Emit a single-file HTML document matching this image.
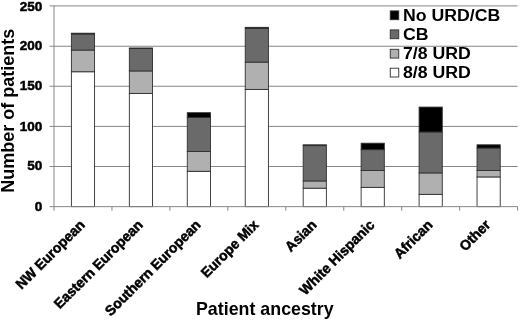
<!DOCTYPE html>
<html><head><meta charset="utf-8"><title>Chart</title>
<style>
html,body{margin:0;padding:0;background:#fff;}
body{width:520px;height:320px;overflow:hidden;position:relative;}
text{font-family:"Liberation Sans",Arial,sans-serif;font-weight:bold;fill:#000;}
.tk{font-size:13.4px;stroke:#000;stroke-width:0.5px;}
.cat{font-size:14.2px;stroke:#000;stroke-width:0.5px;}
.ttl{font-size:18.1px;}
.ttl2{font-size:18px;}
.lg{font-size:17.2px;}
</style></head><body>
<svg width="520" height="320" viewBox="0 0 520 320" style="display:block;position:absolute;left:0;top:0;filter:blur(0.3px)">
<rect width="520" height="320" fill="#fff"/>
<line x1="54.0" x2="517.60" y1="166.50" y2="166.50" stroke="#868686" stroke-width="1"/>
<line x1="54.0" x2="517.60" y1="126.40" y2="126.40" stroke="#868686" stroke-width="1"/>
<line x1="54.0" x2="517.60" y1="86.25" y2="86.25" stroke="#868686" stroke-width="1"/>
<line x1="54.0" x2="517.60" y1="46.25" y2="46.25" stroke="#868686" stroke-width="1"/>
<line x1="54.0" x2="517.60" y1="5.90" y2="5.90" stroke="#868686" stroke-width="1"/>
<rect x="71.39" y="71.75" width="23.18" height="134.90" fill="#ffffff" stroke="#303030" stroke-width="0.9"/>
<rect x="71.39" y="50.06" width="23.18" height="21.68" fill="#b0b0b0" stroke="#303030" stroke-width="0.9"/>
<rect x="71.39" y="34.00" width="23.18" height="16.06" fill="#6a6a6a" stroke="#303030" stroke-width="0.9"/>
<rect x="71.39" y="33.20" width="23.18" height="0.80" fill="#000000" stroke="#303030" stroke-width="0.9"/>
<rect x="129.34" y="93.43" width="23.18" height="113.22" fill="#ffffff" stroke="#303030" stroke-width="0.9"/>
<rect x="129.34" y="70.94" width="23.18" height="22.48" fill="#b0b0b0" stroke="#303030" stroke-width="0.9"/>
<rect x="129.34" y="48.46" width="23.18" height="22.48" fill="#6a6a6a" stroke="#303030" stroke-width="0.9"/>
<rect x="129.34" y="47.98" width="23.18" height="0.48" fill="#000000" stroke="#303030" stroke-width="0.9"/>
<rect x="187.28" y="171.32" width="23.18" height="35.33" fill="#ffffff" stroke="#303030" stroke-width="0.9"/>
<rect x="187.28" y="151.48" width="23.18" height="19.83" fill="#b0b0b0" stroke="#303030" stroke-width="0.9"/>
<rect x="187.28" y="117.52" width="23.18" height="33.97" fill="#6a6a6a" stroke="#303030" stroke-width="0.9"/>
<rect x="187.28" y="112.70" width="23.18" height="4.82" fill="#000000" stroke="#303030" stroke-width="0.9"/>
<rect x="245.24" y="89.41" width="23.18" height="117.24" fill="#ffffff" stroke="#303030" stroke-width="0.9"/>
<rect x="245.24" y="62.11" width="23.18" height="27.30" fill="#b0b0b0" stroke="#303030" stroke-width="0.9"/>
<rect x="245.24" y="28.38" width="23.18" height="33.73" fill="#6a6a6a" stroke="#303030" stroke-width="0.9"/>
<rect x="245.24" y="27.34" width="23.18" height="1.04" fill="#000000" stroke="#303030" stroke-width="0.9"/>
<rect x="303.19" y="188.18" width="23.18" height="18.47" fill="#ffffff" stroke="#303030" stroke-width="0.9"/>
<rect x="303.19" y="180.95" width="23.18" height="7.23" fill="#b0b0b0" stroke="#303030" stroke-width="0.9"/>
<rect x="303.19" y="145.62" width="23.18" height="35.33" fill="#6a6a6a" stroke="#303030" stroke-width="0.9"/>
<rect x="303.19" y="144.82" width="23.18" height="0.80" fill="#000000" stroke="#303030" stroke-width="0.9"/>
<rect x="361.13" y="187.38" width="23.18" height="19.27" fill="#ffffff" stroke="#303030" stroke-width="0.9"/>
<rect x="361.13" y="170.51" width="23.18" height="16.86" fill="#b0b0b0" stroke="#303030" stroke-width="0.9"/>
<rect x="361.13" y="149.64" width="23.18" height="20.88" fill="#6a6a6a" stroke="#303030" stroke-width="0.9"/>
<rect x="361.13" y="143.21" width="23.18" height="6.42" fill="#000000" stroke="#303030" stroke-width="0.9"/>
<rect x="419.09" y="194.36" width="23.18" height="12.29" fill="#ffffff" stroke="#303030" stroke-width="0.9"/>
<rect x="419.09" y="172.92" width="23.18" height="21.44" fill="#b0b0b0" stroke="#303030" stroke-width="0.9"/>
<rect x="419.09" y="131.97" width="23.18" height="40.95" fill="#6a6a6a" stroke="#303030" stroke-width="0.9"/>
<rect x="419.09" y="107.08" width="23.18" height="24.89" fill="#000000" stroke="#303030" stroke-width="0.9"/>
<rect x="477.04" y="176.94" width="23.18" height="29.71" fill="#ffffff" stroke="#303030" stroke-width="0.9"/>
<rect x="477.04" y="170.51" width="23.18" height="6.42" fill="#b0b0b0" stroke="#303030" stroke-width="0.9"/>
<rect x="477.04" y="148.03" width="23.18" height="22.48" fill="#6a6a6a" stroke="#303030" stroke-width="0.9"/>
<rect x="477.04" y="144.82" width="23.18" height="3.21" fill="#000000" stroke="#303030" stroke-width="0.9"/>
<line x1="54.0" x2="54.0" y1="5.90" y2="210.65" stroke="#868686" stroke-width="1"/>
<line x1="49.5" x2="517.60" y1="206.65" y2="206.65" stroke="#868686" stroke-width="1"/>
<line x1="49.5" x2="54.0" y1="166.50" y2="166.50" stroke="#868686" stroke-width="1"/>
<line x1="49.5" x2="54.0" y1="126.40" y2="126.40" stroke="#868686" stroke-width="1"/>
<line x1="49.5" x2="54.0" y1="86.25" y2="86.25" stroke="#868686" stroke-width="1"/>
<line x1="49.5" x2="54.0" y1="46.25" y2="46.25" stroke="#868686" stroke-width="1"/>
<line x1="49.5" x2="54.0" y1="5.90" y2="5.90" stroke="#868686" stroke-width="1"/>
<line x1="111.95" x2="111.95" y1="206.65" y2="210.65" stroke="#868686" stroke-width="1"/>
<line x1="169.90" x2="169.90" y1="206.65" y2="210.65" stroke="#868686" stroke-width="1"/>
<line x1="227.85" x2="227.85" y1="206.65" y2="210.65" stroke="#868686" stroke-width="1"/>
<line x1="285.80" x2="285.80" y1="206.65" y2="210.65" stroke="#868686" stroke-width="1"/>
<line x1="343.75" x2="343.75" y1="206.65" y2="210.65" stroke="#868686" stroke-width="1"/>
<line x1="401.70" x2="401.70" y1="206.65" y2="210.65" stroke="#868686" stroke-width="1"/>
<line x1="459.65" x2="459.65" y1="206.65" y2="210.65" stroke="#868686" stroke-width="1"/>
<line x1="517.60" x2="517.60" y1="206.65" y2="210.65" stroke="#868686" stroke-width="1"/>
<text transform="translate(42.3,210.75) scale(1.01,1)" text-anchor="end" class="tk">0</text>
<text transform="translate(42.3,170.35) scale(1.01,1)" text-anchor="end" class="tk">50</text>
<text transform="translate(42.3,130.75) scale(1.01,1)" text-anchor="end" class="tk">100</text>
<text transform="translate(42.3,90.35) scale(1.01,1)" text-anchor="end" class="tk">150</text>
<text transform="translate(42.3,49.90) scale(1.01,1)" text-anchor="end" class="tk">200</text>
<text transform="translate(42.3,10.50) scale(1.01,1)" text-anchor="end" class="tk">250</text>
<text transform="translate(85.67,225.75) rotate(-45) scale(0.977,1)" text-anchor="end" class="cat">NW European</text>
<text transform="translate(143.62,225.75) rotate(-45) scale(0.977,1)" text-anchor="end" class="cat">Eastern European</text>
<text transform="translate(201.57,225.75) rotate(-45) scale(0.977,1)" text-anchor="end" class="cat">Southern European</text>
<text transform="translate(259.53,225.75) rotate(-45) scale(0.977,1)" text-anchor="end" class="cat">Europe Mix</text>
<text transform="translate(317.48,225.75) rotate(-45) scale(0.977,1)" text-anchor="end" class="cat">Asian</text>
<text transform="translate(375.43,225.75) rotate(-45) scale(0.977,1)" text-anchor="end" class="cat">White Hispanic</text>
<text transform="translate(433.38,225.75) rotate(-45) scale(0.977,1)" text-anchor="end" class="cat">African</text>
<text transform="translate(491.33,225.75) rotate(-45) scale(0.977,1)" text-anchor="end" class="cat">Other</text>
<text transform="translate(264.8,314.5) scale(0.985,1)" text-anchor="middle" class="ttl">Patient ancestry</text>
<text transform="translate(13.75,110.8) rotate(-90) scale(1.0,1)" text-anchor="middle" class="ttl2">Number of patients</text>
<rect x="390.25" y="10.90" width="8.5" height="8.8" fill="#000" stroke="#303030" stroke-width="0.9"/>
<text transform="translate(402.95,21.00) scale(1.03,1)" class="lg">No URD/CB</text>
<rect x="390.25" y="29.90" width="8.5" height="8.8" fill="#6a6a6a" stroke="#303030" stroke-width="0.9"/>
<text transform="translate(402.95,40.00) scale(1.03,1)" class="lg">CB</text>
<rect x="390.25" y="49.30" width="8.5" height="8.8" fill="#b0b0b0" stroke="#303030" stroke-width="0.9"/>
<text transform="translate(402.95,59.40) scale(1.03,1)" class="lg">7/8 URD</text>
<rect x="390.25" y="68.20" width="8.5" height="8.8" fill="#fff" stroke="#303030" stroke-width="0.9"/>
<text transform="translate(402.95,78.30) scale(1.03,1)" class="lg">8/8 URD</text>
</svg>
</body></html>
